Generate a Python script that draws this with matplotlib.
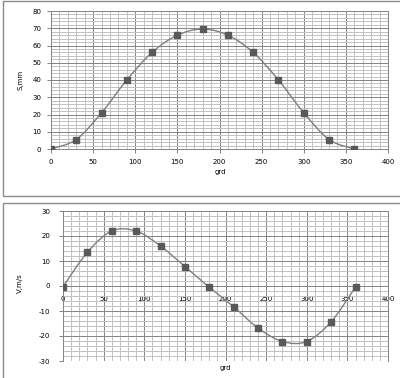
import numpy as np
import matplotlib
matplotlib.use("Agg")
import matplotlib.pyplot as plt
from matplotlib.path import Path
from matplotlib.patches import PathPatch, Rectangle

plt.rcParams["axes.unicode_minus"] = False

# angle, degrees
grd = [0, 30, 60, 90, 120, 150, 180, 210, 240, 270, 300, 330, 360]
# displacement, mm
s_mm = [0, 5.5, 21, 40, 56, 66, 69.5, 66, 56, 40, 21, 5.5, 0]
# velocity, m/s
v_ms = [-0.3, 13.5, 22, 22, 16, 7.8, -0.5, -8.3, -16.8, -22.2, -22.2, -14.3, -0.4]

W, H = 400, 378


def smooth_path(x, y):
    # Excel-like smoothed line: cubic Bezier segments through the points
    pts = np.column_stack([x, y]).astype(float)
    n = len(pts)
    verts = [pts[0]]
    codes = [Path.MOVETO]
    for i in range(n - 1):
        p0 = pts[i - 1] if i > 0 else pts[i]
        p1 = pts[i]
        p2 = pts[i + 1]
        p3 = pts[i + 2] if i + 2 < n else pts[i + 1]
        c1 = p1 + (p2 - p0) / 6.0
        c2 = p2 - (p3 - p1) / 6.0
        verts += [c1, c2, p2]
        codes += [Path.CURVE4] * 3
    return Path(verts, codes)


def frac(left, top, right, bottom):
    return [left / W, 1 - bottom / H, (right - left) / W, (bottom - top) / H]


fig = plt.figure(figsize=(W / 100, H / 100), dpi=100)
fig.patch.set_facecolor("white")

# outer chart frames
for (l, t, r, b) in [(3, 1, 402, 196), (3, 203, 402, 380)]:
    fig.patches.append(Rectangle((l / W, 1 - b / H), (r - l) / W, (b - t) / H,
                                 transform=fig.transFigure, fill=False,
                                 edgecolor="#8c8c8c", linewidth=1.0))

ax1 = fig.add_axes(frac(51, 11, 388, 149))
ax2 = fig.add_axes(frac(63, 211, 388, 361))


def style(ax, ymin, ymax, ystep, yminor):
    ax.set_xlim(0, 400)
    ax.set_ylim(ymin, ymax)
    ax.set_xticks(np.arange(0, 401, 50))
    ax.set_xticks(np.arange(0, 401, 10), minor=True)
    ax.set_yticks(np.arange(ymin, ymax + 1, ystep))
    ax.set_yticks(np.arange(ymin, ymax + 0.1, yminor), minor=True)
    ax.grid(which="minor", color="#c2c2c2", linewidth=0.72)
    ax.grid(which="major", color="#868686", linewidth=0.72)
    ax.set_axisbelow(True)
    ax.tick_params(which="major", labelsize=5, length=3, width=0.72,
                   color="#868686", pad=4)
    ax.tick_params(which="minor", length=0)
    for sp in ax.spines.values():
        sp.set_color("#868686")
        sp.set_linewidth(0.72)


style(ax1, 0, 80, 10, 2)
style(ax2, -30, 30, 10, 2)
ax2.spines["bottom"].set_position(("data", 0))
ax2.tick_params(axis="y", pad=6)

for ax, ys in [(ax1, s_mm), (ax2, v_ms)]:
    ax.add_patch(PathPatch(smooth_path(grd, ys), facecolor="none",
                           edgecolor="#7f7f7f", linewidth=1.0, zorder=3))
    ax.plot(grd, ys, linestyle="none", marker="s", markersize=5,
            color="#595959", zorder=4)

fig.text(20 / W, 1 - 80 / H, "S,mm", fontsize=5, rotation=90,
         ha="center", va="center")
fig.text(20 / W, 1 - 283 / H, "V,m/s", fontsize=5, rotation=90,
         ha="center", va="center")
fig.text(220 / W, 1 - 172 / H, "grd", fontsize=5, ha="center", va="center")
fig.text(225 / W, 1 - 368 / H, "grd", fontsize=5, ha="center", va="center")

fig.savefig("out.png", dpi=100)
